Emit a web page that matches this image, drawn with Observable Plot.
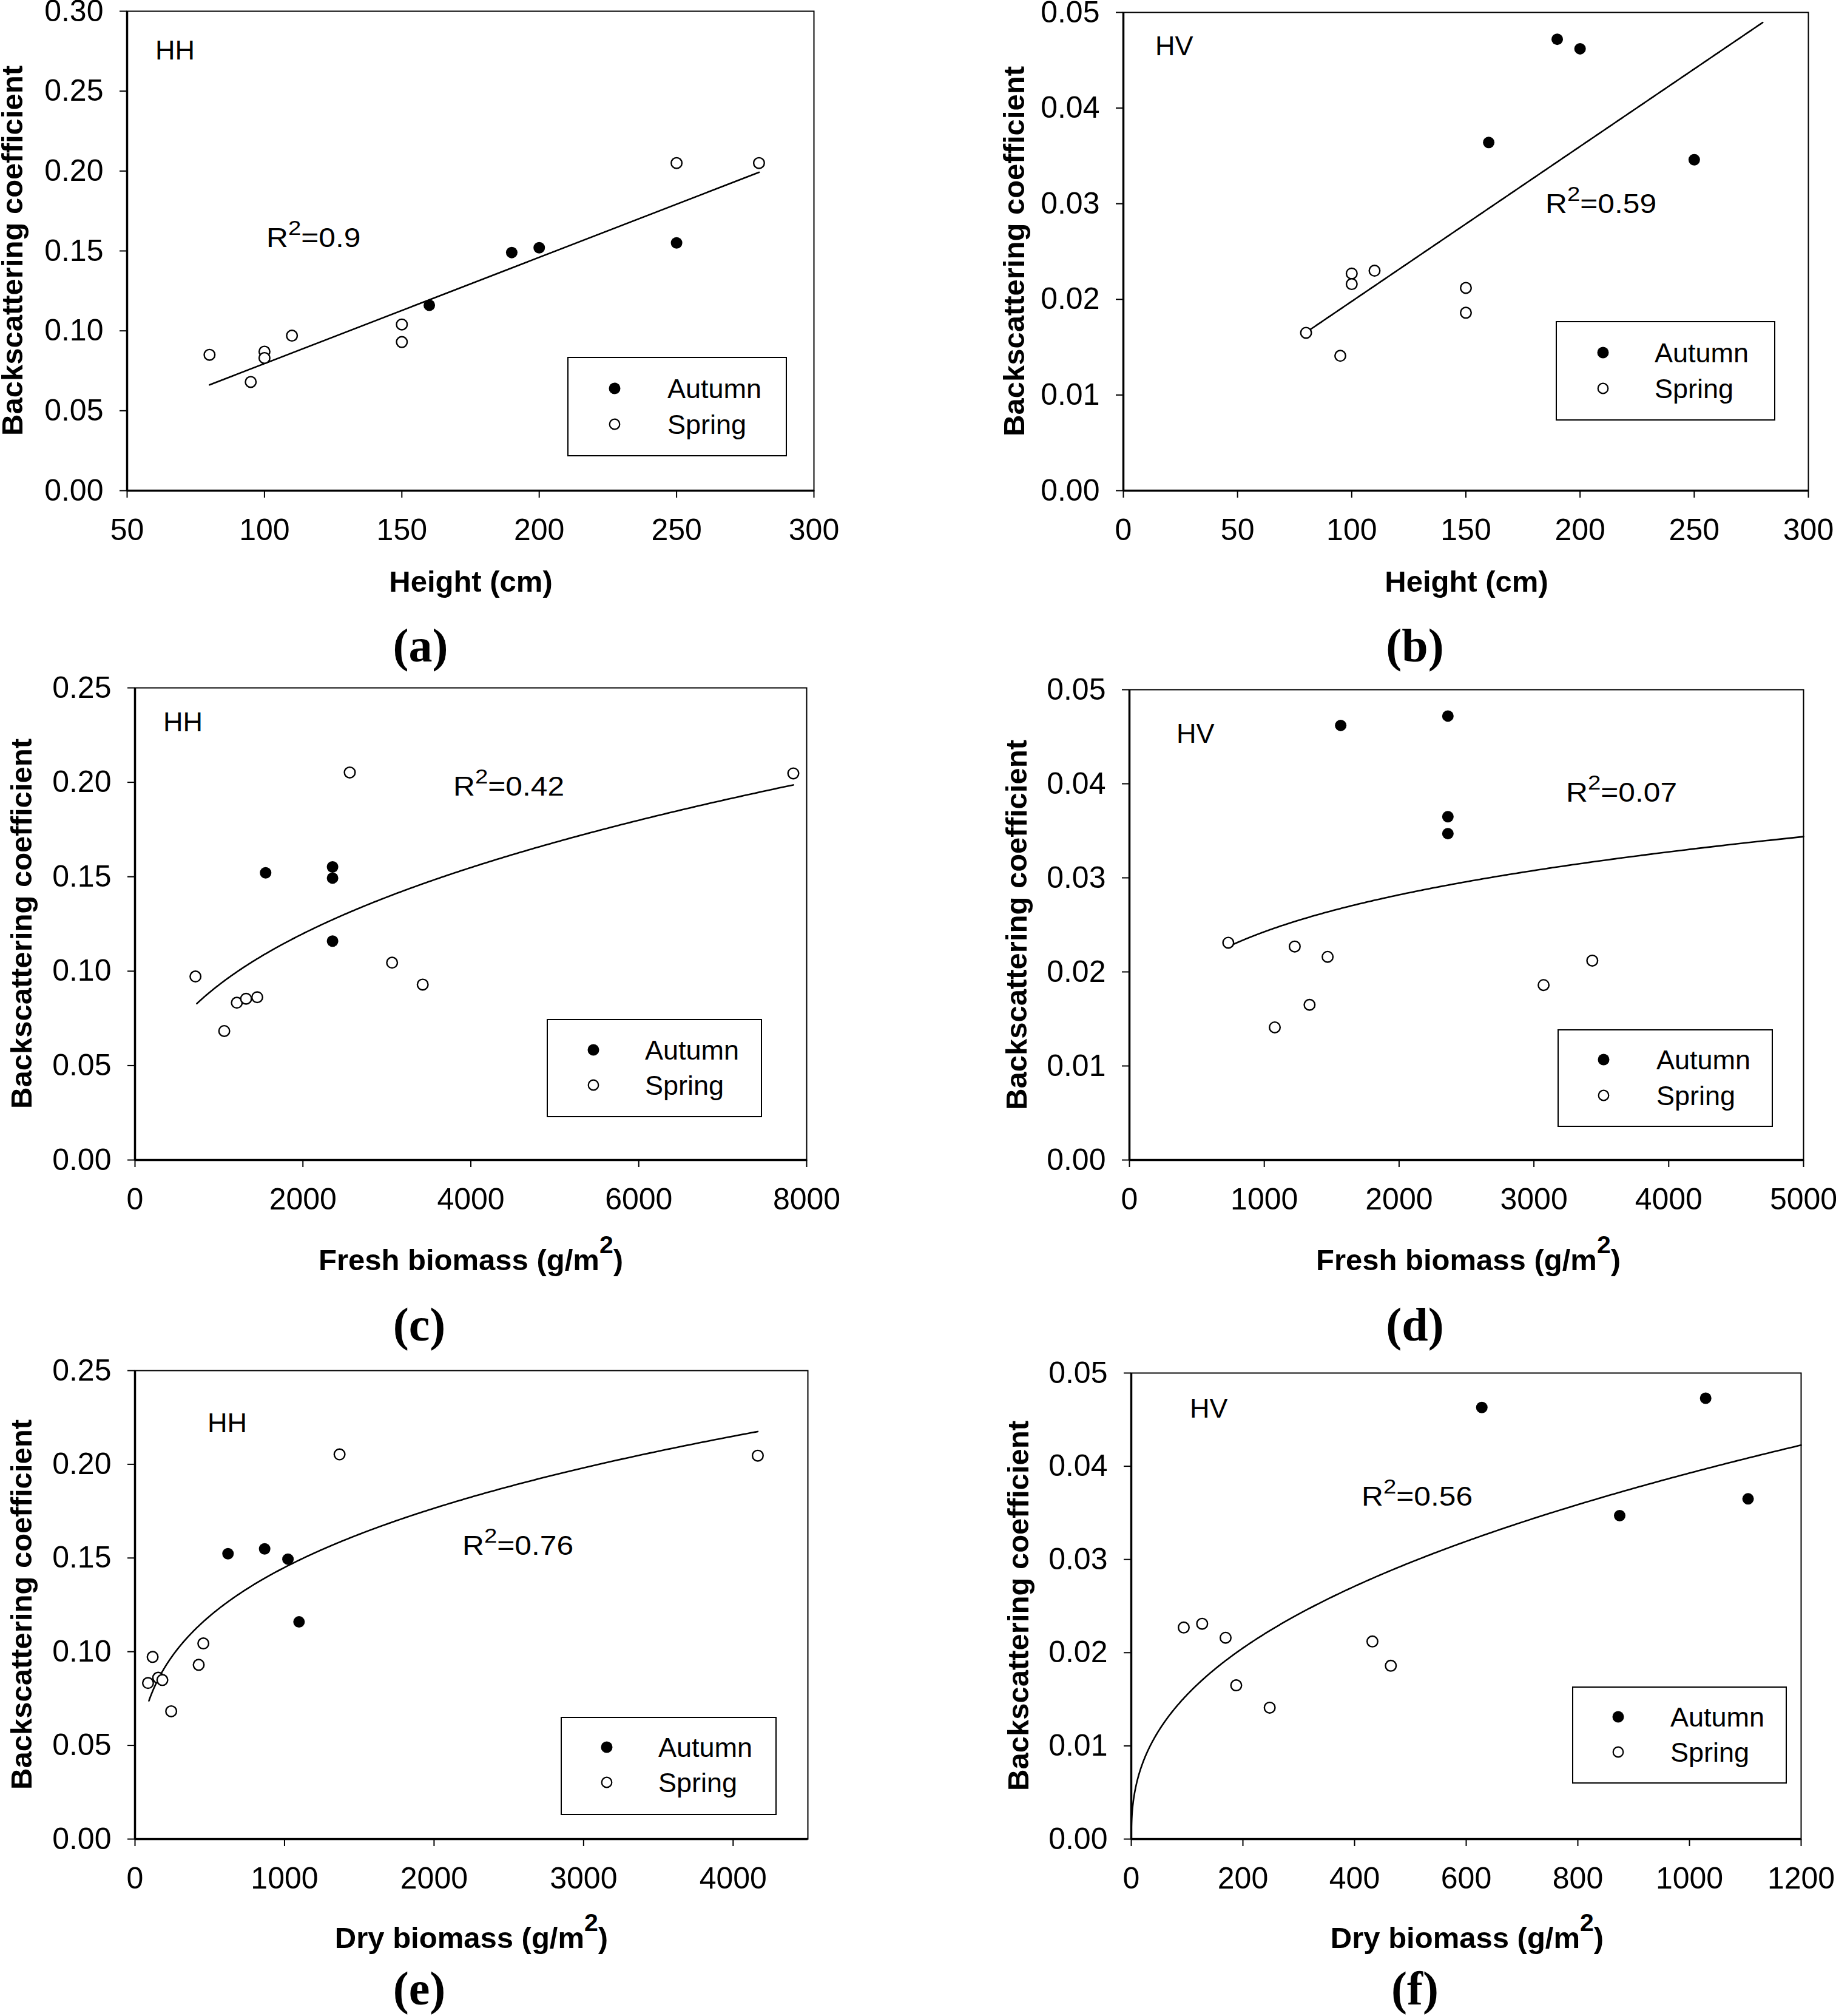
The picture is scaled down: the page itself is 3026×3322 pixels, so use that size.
<!DOCTYPE html>
<html><head><meta charset="utf-8">
<script src="https://cdn.jsdelivr.net/npm/d3@7"></script>
<script src="https://cdn.jsdelivr.net/npm/@observablehq/plot@0.6"></script>
<style>
body{margin:0;background:#fff;}
#fig{position:relative;width:3026px;height:3322px;background:#fff;overflow:hidden;}
.panel{position:absolute;}
#overlay{position:absolute;left:0;top:0;}
</style></head><body><div id="fig"></div>
<script>
// ---------------- DATA ----------------
const panelIds = ["a","b","c","d","e","f"];
const polarization = ["HH","HV","HH","HV","HH","HV"];
const r2Values = ["0.9","0.59","0.42","0.07","0.76","0.56"];
const xTitleMain = ["Height (cm)","Height (cm)","Fresh biomass (g/m","Fresh biomass (g/m","Dry biomass (g/m","Dry biomass (g/m"];
const xTitleSup = ["","","2","2","2","2"];
const xTitleTail = ["","",")",")",")",")"];
const yTitle = "Backscattering coefficient";
const seasons = ["Autumn","Spring"];

const xDomains = [[50,300],[0,300],[0,8000],[0,5000],[0,4500],[0,1200]];
const xTicks = [[50,100,150,200,250,300],[0,50,100,150,200,250,300],[0,2000,4000,6000,8000],[0,1000,2000,3000,4000,5000],[0,1000,2000,3000,4000],[0,200,400,600,800,1000,1200]];
const yMax = [0.30,0.05,0.25,0.05,0.25,0.05];
const yTicksHH30 = [0,0.05,0.10,0.15,0.20,0.25,0.30];
const yTicksHH25 = [0,0.05,0.10,0.15,0.20,0.25];
const yTicksHV = [0,0.01,0.02,0.03,0.04,0.05];
const yTicks = [yTicksHH30,yTicksHV,yTicksHH25,yTicksHV,yTicksHH25,yTicksHV];

// (a) Height vs HH
const aSpringX = [80,95,100,100,110,150,150,250,280];
const aSpringY = [0.085,0.068,0.087,0.083,0.097,0.104,0.093,0.205,0.205];
const aAutumnX = [160,190,200,250];
const aAutumnY = [0.116,0.149,0.152,0.155];
// (b) Height vs HV
const bSpringX = [80,95,100,100,110,150,150];
const bSpringY = [0.0165,0.0141,0.0227,0.0216,0.0230,0.0212,0.0186];
const bAutumnX = [160,190,200,250];
const bAutumnY = [0.0364,0.0472,0.0462,0.0346];
// (c) Fresh biomass vs HH
const cSpringX = [720,1063,1213,1323,1456,2558,3062,3427,7841];
const cSpringY = [0.0972,0.0683,0.0833,0.0854,0.0862,0.2052,0.1045,0.0929,0.2047];
const cAutumnX = [1556,2353,2353,2353];
const cAutumnY = [0.1521,0.1552,0.1493,0.1159];
// (d) Fresh biomass vs HV
const dSpringX = [733,1078,1226,1336,1470,3072,3433];
const dSpringY = [0.0231,0.0141,0.0227,0.0165,0.0216,0.0186,0.0212];
const dAutumnX = [1567,2362,2362,2362];
const dAutumnY = [0.0462,0.0472,0.0365,0.0347];
// (e) Dry biomass vs HH
const eSpringX = [87,118,155,183,242,426,457,1368,4165];
const eSpringY = [0.0833,0.0972,0.0861,0.0849,0.0682,0.0930,0.1044,0.2053,0.2046];
const eAutumnX = [622,867,1023,1097];
const eAutumnY = [0.1523,0.1549,0.1494,0.1159];
// (f) Dry biomass vs HV
const fSpringX = [94,127,169,188,248,432,465];
const fSpringY = [0.0227,0.0231,0.0216,0.0165,0.0141,0.0212,0.0186];
const fAutumnX = [628,875,1029,1105];
const fAutumnY = [0.0463,0.0347,0.0473,0.0365];

const springX = [aSpringX,bSpringX,cSpringX,dSpringX,eSpringX,fSpringX];
const springY = [aSpringY,bSpringY,cSpringY,dSpringY,eSpringY,fSpringY];
const autumnX = [aAutumnX,bAutumnX,cAutumnX,dAutumnX,eAutumnX,fAutumnX];
const autumnY = [aAutumnY,bAutumnY,cAutumnY,dAutumnY,eAutumnY,fAutumnY];

// fitted regression curves (coefficients)
// linear: y = A + B*x ; power: y = A * x^B
const fitType = ["linear","linear","power","power","power","power"];
const fitA = [0.0130,0.00359,0.007209,0.005438,0.02034,0.00241];
const fitB = [0.000665,0.000162,0.3698,0.2165,0.2843,0.404];
const fitFrom = [80,80,736,740,93,0];
const fitTo = [280,280,7841,5000,4165,1200];

// ---------------- LAYOUT ----------------
const frames = [
  {L:209,R:1341,T:18,B:808},{L:1851,R:2980,T:20,B:808},
  {L:222,R:1329,T:1133,B:1911},{L:1861,R:2972,T:1136,B:1911},
  {L:222,R:1331,T:2258,B:3030},{L:1864,R:2968,T:2262,B:3030}];
const yTitlePos = [[37,413],[1688,414],[52,1522],[1692,1524],[52,2644],[1695,2646]];
const xTitlePos = [[776,975],[2417,975],[776,2093],[2420,2093],[777,3210],[2418,3210]];
const labelPos = [[693,1090],[2332,1090],[691,2209],[2332,2209],[691,3303],[2332,3303]];
const polPos = [[256,98],[1904,91],[269,1205],[1939,1224],[342,2360],[1961,2336]];
const r2Pos = [[439,407],[2547,351],[747,1311],[2581,1321],[762,2562],[2244,2481]];
const legendPos = [
  {x0:936,y0:589,x1:1296,y1:751,r1:640,r2:699,sx:1013,tx:1100},
  {x0:2565,y0:530,x1:2925,y1:692,r1:581,r2:640,sx:2642,tx:2727},
  {x0:902,y0:1680,x1:1255,y1:1840,r1:1730,r2:1788,sx:978,tx:1063},
  {x0:2568,y0:1697,x1:2921,y1:1856,r1:1746,r2:1805,sx:2643,tx:2730},
  {x0:925,y0:2830,x1:1279,y1:2990,r1:2879,r2:2937,sx:1000,tx:1085},
  {x0:2592,y0:2780,x1:2944,y1:2938,r1:2829,r2:2887,sx:2667,tx:2753}];

const SANS = "'Liberation Sans', Arial, Helvetica, sans-serif";
const SERIF = "'Liberation Serif', 'Times New Roman', serif";
const fig = document.getElementById("fig");
const ml = 240, mr = 40, mt = 40, mb = 150;

panelIds.forEach((id, i) => {
  const fr = frames[i];
  const spring = springX[i].map((x, j) => ({x, y: springY[i][j]}));
  const autumn = autumnX[i].map((x, j) => ({x, y: autumnY[i][j]}));
  const n = 400;
  const curve = d3.range(n + 1).map(k => {
    const t = k / n;
    const x = fitFrom[i] + (fitTo[i] - fitFrom[i]) * (fitType[i] === "power" ? t * t : t);
    const y = fitType[i] === "linear" ? fitA[i] + fitB[i] * x : fitA[i] * Math.pow(x, fitB[i]);
    return {x, y};
  });
  const chart = Plot.plot({
    width: fr.R - fr.L + ml + mr,
    height: fr.B - fr.T + mt + mb,
    marginLeft: ml, marginRight: mr, marginTop: mt, marginBottom: mb,
    style: {fontFamily: SANS, fontSize: "50px", color: "#000", background: "transparent", overflow: "visible"},
    x: {domain: xDomains[i]},
    y: {domain: [0, yMax[i]]},
    marks: [
      Plot.frame({stroke: "#000", strokeWidth: 2}),
      Plot.axisX({anchor: "bottom", ticks: xTicks[i], tickSize: 12, tickPadding: 34, label: null,
        tickFormat: d3.format("d"), strokeWidth: 2}),
      Plot.axisY({anchor: "left", ticks: yTicks[i], tickSize: 12, tickPadding: 27, label: null,
        tickFormat: d3.format(".2f"), strokeWidth: 2}),
      Plot.ruleX([xDomains[i][0]], {stroke: "#000", strokeWidth: 3.5}),
      Plot.ruleY([0], {stroke: "#000", strokeWidth: 3.5}),
      Plot.line(curve, {x: "x", y: "y", stroke: "#000", strokeWidth: 2.6}),
      Plot.dot(spring, {x: "x", y: "y", r: 8.8, fill: "#fff", stroke: "#000", strokeWidth: 2.4}),
      Plot.dot(autumn, {x: "x", y: "y", r: 9.5, fill: "#000", stroke: "none"})
    ]
  });
  const wrap = document.createElement("div");
  wrap.className = "panel";
  wrap.style.left = (fr.L - ml) + "px";
  wrap.style.top = (fr.T - mt) + "px";
  wrap.appendChild(chart);
  fig.appendChild(wrap);
});

// ---------------- TEXT OVERLAY ----------------
const svg = d3.select(fig).append("svg").attr("id", "overlay")
  .attr("width", 3026).attr("height", 3322).attr("viewBox", "0 0 3026 3322");

panelIds.forEach((id, i) => {
  // y title
  svg.append("text")
    .attr("transform", `translate(${yTitlePos[i][0]},${yTitlePos[i][1]}) rotate(-90)`)
    .attr("text-anchor", "middle").attr("font-family", SANS).attr("font-weight", "bold")
    .attr("font-size", 49).text(yTitle);
  // x title
  const xt = svg.append("text").attr("x", xTitlePos[i][0]).attr("y", xTitlePos[i][1])
    .attr("text-anchor", "middle").attr("font-family", SANS).attr("font-weight", "bold").attr("font-size", 49);
  xt.append("tspan").text(xTitleMain[i]);
  if (xTitleSup[i]) {
    xt.append("tspan").attr("font-size", 41).attr("dy", -28).text(xTitleSup[i]);
    xt.append("tspan").attr("dy", 28).text(xTitleTail[i]);
  }
  // panel label
  svg.append("text").attr("x", labelPos[i][0]).attr("y", labelPos[i][1])
    .attr("text-anchor", "middle").attr("font-family", SERIF).attr("font-weight", "bold")
    .attr("font-size", 78).text(`(${id})`);
  // polarization
  svg.append("text").attr("x", polPos[i][0]).attr("y", polPos[i][1])
    .attr("font-family", SANS).attr("font-size", 45).text(polarization[i]);
  // R^2
  const rt = svg.append("text")
    .attr("transform", `translate(${r2Pos[i][0]},${r2Pos[i][1]}) scale(1.13,1)`)
    .attr("font-family", SANS).attr("font-size", 44);
  rt.append("tspan").text("R");
  rt.append("tspan").attr("font-size", 34).attr("dy", -20).text("2");
  rt.append("tspan").attr("dy", 20).text("=" + r2Values[i]);
  // legend
  const lg = legendPos[i];
  svg.append("rect").attr("x", lg.x0).attr("y", lg.y0).attr("width", lg.x1 - lg.x0).attr("height", lg.y1 - lg.y0)
    .attr("fill", "#fff").attr("stroke", "#000").attr("stroke-width", 2);
  svg.append("circle").attr("cx", lg.sx).attr("cy", lg.r1).attr("r", 9.5).attr("fill", "#000");
  svg.append("circle").attr("cx", lg.sx).attr("cy", lg.r2).attr("r", 8.3).attr("fill", "#fff")
    .attr("stroke", "#000").attr("stroke-width", 2.2);
  [lg.r1, lg.r2].forEach((ry, k) => {
    svg.append("text").attr("x", lg.tx).attr("y", ry + 16).attr("font-family", SANS)
      .attr("font-size", 45).text(seasons[k]);
  });
});
</script></body></html>
